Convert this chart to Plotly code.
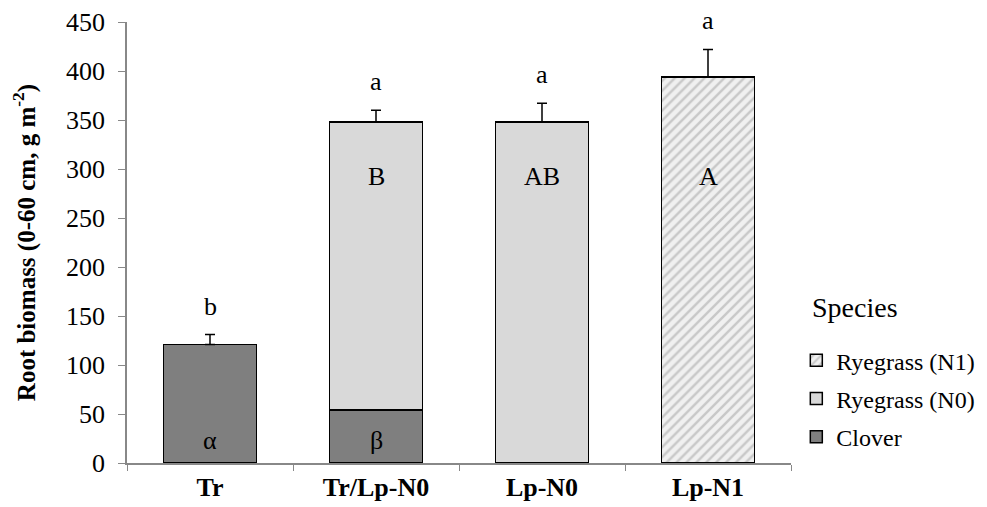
import plotly.graph_objects as go

categories = ["Tr", "Tr/Lp-N0", "Lp-N0", "Lp-N1"]
clover = [121, 54, 0, 0]
ryegrass_n0 = [0, 294, 348, 0]
ryegrass_n1 = [0, 0, 0, 394]
totals = [121, 348, 348, 394]
errors = [10, 12, 19, 28]
top_letters = ["b", "a", "a", "a"]
clover_letters = ["α", "β", "", ""]
clover_letter_y = 23
ryegrass_letters = ["", "B", "AB", "A"]
ryegrass_letter_y = 292

font = "Liberation Serif"
line = dict(color="black", width=1.5)

fig = go.Figure()
fig.add_trace(go.Bar(x=categories, y=clover, name="Clover", legendgroup="c", legendrank=3,
                     marker=dict(color="#7f7f7f", line=line)))
fig.add_trace(go.Bar(x=categories, y=ryegrass_n0, name="Ryegrass (N0)", legendgroup="n0",
                     legendrank=2, marker=dict(color="#d9d9d9", line=line)))
fig.add_trace(go.Bar(x=categories, y=ryegrass_n1, name="Ryegrass (N1)", legendgroup="n1",
                     legendrank=1,
                     marker=dict(color="#f0f0f0", line=line,
                                 pattern=dict(shape="/", fgcolor="#a0a0a0",
                                              bgcolor="#f0f0f0", size=7, solidity=0.35))))
fig.add_trace(go.Scatter(x=categories, y=totals, mode="markers",
                         marker=dict(size=1, color="rgba(0,0,0,0)"),
                         showlegend=False, hoverinfo="skip", cliponaxis=False,
                         error_y=dict(type="data", array=errors, arrayminus=[0]*4,
                                      symmetric=False, color="black", thickness=1.5, width=5)))

ann = []
for c, t, e, l in zip(categories, totals, errors, top_letters):
    ann.append(dict(x=c, y=t + e, yshift=16, height=22, text=l, showarrow=False,
                    yanchor="bottom", font=dict(size=26, color="black", family=font)))
for c, l in zip(categories, clover_letters):
    if l:
        ann.append(dict(x=c, y=clover_letter_y, text=l, showarrow=False,
                        font=dict(size=26, color="black", family=font)))
for c, l in zip(categories, ryegrass_letters):
    if l:
        ann.append(dict(x=c, y=ryegrass_letter_y, text=l, showarrow=False,
                        font=dict(size=26, color="black", family=font)))
ann.append(dict(xref="paper", yref="paper", x=1.0286, y=0.353, xanchor="left",
                yanchor="middle", text="Species", showarrow=False,
                font=dict(size=28, color="black", family=font)))

fig.update_layout(
    width=979, height=499,
    margin=dict(l=119, r=196, t=14, b=44, autoexpand=False),
    barmode="stack", bargap=0.44,
    plot_bgcolor="white", paper_bgcolor="white",
    font=dict(family=font, size=26, color="black"),
    annotations=ann,
    legend=dict(traceorder="grouped", x=1.008, xanchor="left", y=0.283, yanchor="top",
                font=dict(size=24, family=font), itemwidth=30, tracegroupgap=4),
    yaxis=dict(range=[0, 450], dtick=50, showline=True, linecolor="#888888", linewidth=1.5,
               ticks="outside", tickcolor="#888888", ticklen=7, showgrid=False,
               zeroline=False, tickfont=dict(size=26, family=font), automargin=False,
               ticklabelstandoff=8,
               title=dict(text="<b>Root biomass (0-60 cm, g m<sup>-2</sup>)</b>",
                          font=dict(size=25, family=font), standoff=26)),
    xaxis=dict(showline=True, linecolor="#888888", linewidth=1.5, ticks="outside",
               tickcolor="#888888", ticklen=6, tickson="boundaries", showgrid=False,
               tickfont=dict(size=26, family=font), automargin=False,
               tickvals=categories, ticktext=[f"<b>{c}</b>" for c in categories]),
)

fig.write_html("out.html")
